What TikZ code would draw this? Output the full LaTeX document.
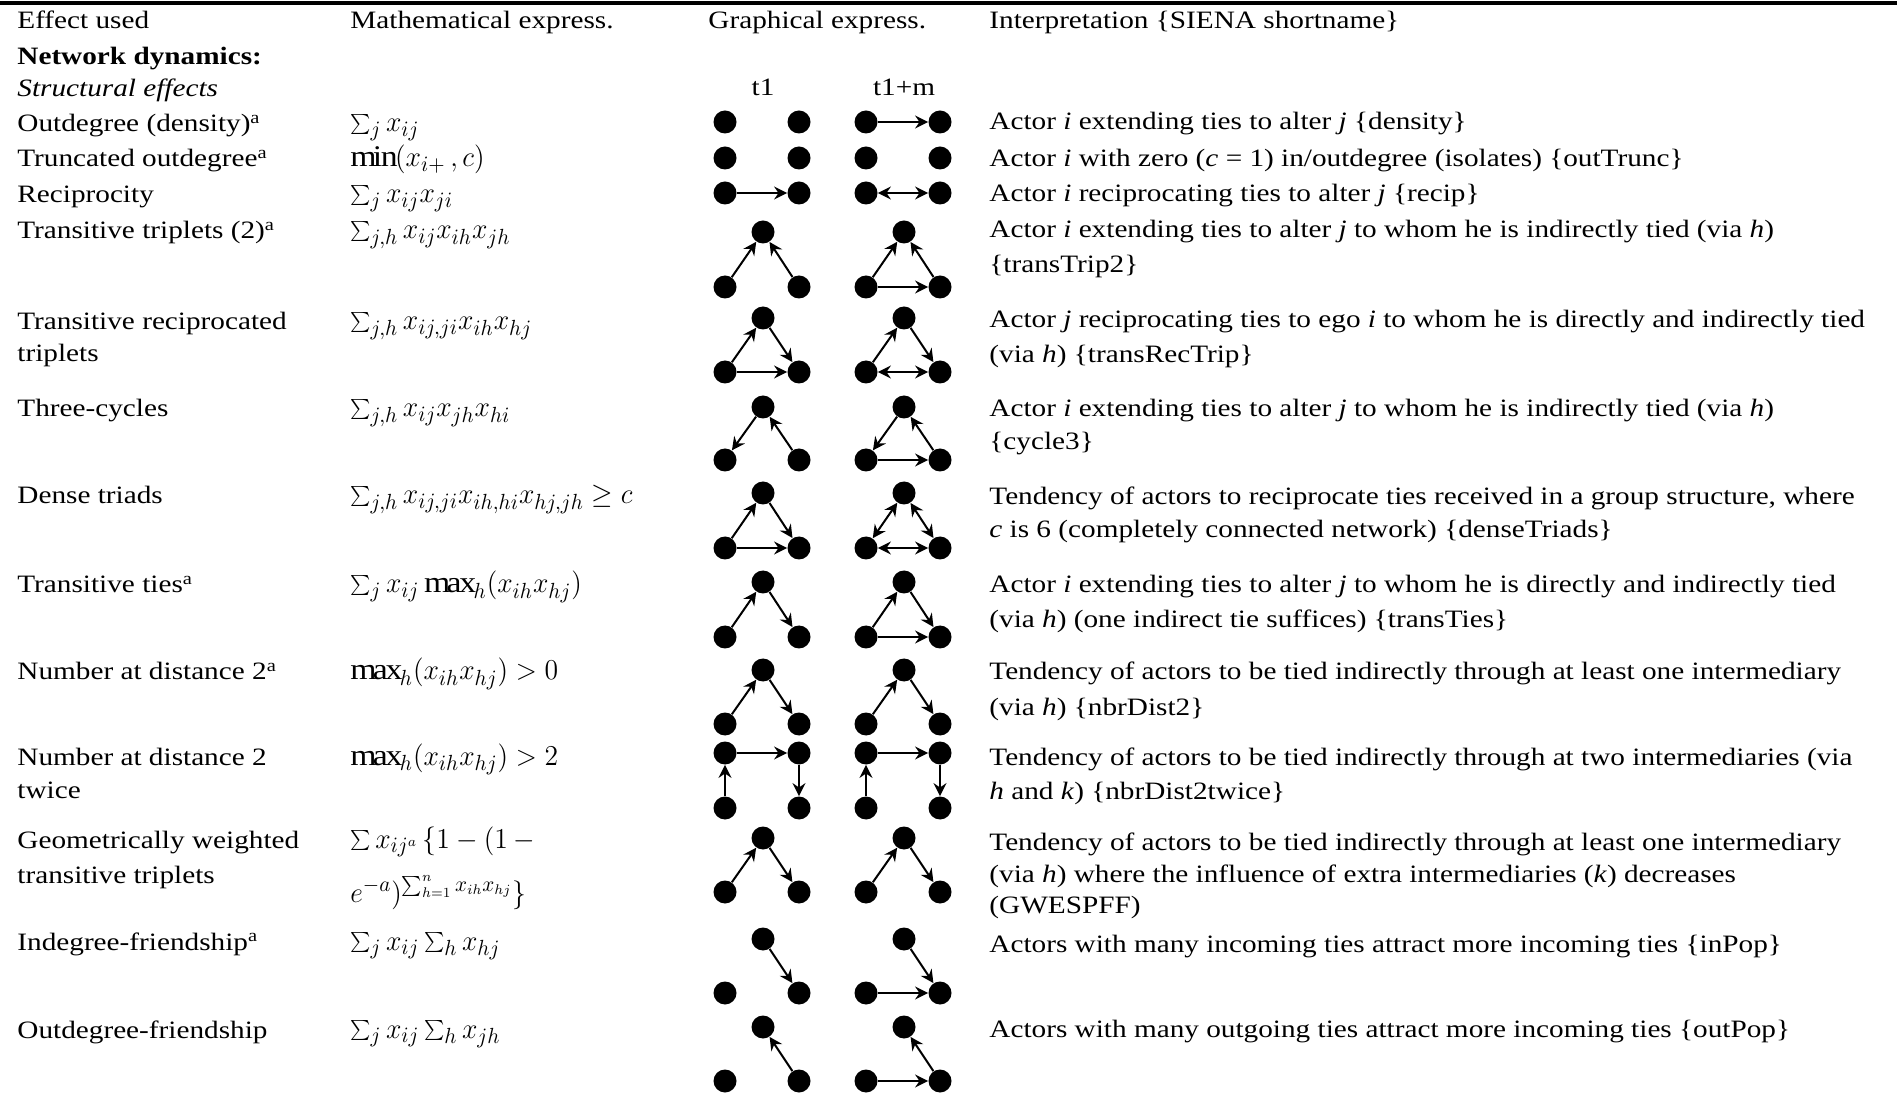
\documentclass[tikz,border=0pt]{standalone}
\usepackage{fontspec}
\setmainfont{Liberation Serif}[FakeStretch=1.17]
\usetikzlibrary{arrows.meta}
\newcommand{\mth}[1]{{\fontsize{15pt}{17pt}\selectfont\scalebox{0.96}[1]{$#1$}}}
\newcommand{\pairnodes}[2]{%
 \node[actor] (#1a) at (725,#2) {};
 \node[actor] (#1b) at (799,#2) {};
 \node[actor] (#1c) at (866,#2) {};
 \node[actor] (#1d) at (940,#2) {};}
\newcommand{\trinodes}[3]{%
 \node[actor] (#1Lt) at (763,#2) {};
 \node[actor] (#1La) at (725,#3) {};
 \node[actor] (#1Lb) at (799,#3) {};
 \node[actor] (#1Rt) at (904,#2) {};
 \node[actor] (#1Ra) at (866,#3) {};
 \node[actor] (#1Rb) at (940,#3) {};}
\tikzset{
 txt/.style={anchor=base west, inner sep=0pt, font=\fontsize{12.5pt}{14pt}\selectfont},
 ctxt/.style={anchor=base, inner sep=0pt, font=\fontsize{12.5pt}{14pt}\selectfont},
 actor/.style={circle, fill=black, minimum size=11.5pt, inner sep=0pt},
 tie/.style={line width=1pt, -{Stealth[length=6.5pt,width=6.5pt,inset=2.2pt]}},
 mutual/.style={line width=1pt, {Stealth[length=6.5pt,width=6.5pt,inset=2.2pt]}-{Stealth[length=6.5pt,width=6.5pt,inset=2.2pt]}},
 rule/.style={line width=2pt}
}
\begin{document}
\begin{tikzpicture}[x=0.5pt,y=-0.5pt]
\useasboundingbox (0,0) rectangle (1897,1096);
\coordinate (rl) at (0,3);
\coordinate (rr) at (1897,3);
\draw[rule] (rl) -- (rr);

% headers
\node[txt] (h1) at (17,29) {Effect used};
\node[txt] (h2) at (350,29) {Mathematical express.};
\node[txt] (h3) at (708,29) {Graphical express.};
\node[txt] (h4) at (989,29) {Interpretation \{SIENA shortname\}};
\node[txt] (e0) at (17,65) {\textbf{Network dynamics:}};
\node[txt] (e00) at (17,97) {\textit{Structural effects}};
\node[ctxt] (t1) at (763,96) {t1};
\node[ctxt] (t2) at (904,96) {t1+m};

% column 1
\node[txt] (e1) at (17,132) {Outdegree (density)\textsuperscript{a}};
\node[txt] (e2) at (17,167) {Truncated outdegree\textsuperscript{a}};
\node[txt] (e3) at (17,203) {Reciprocity};
\node[txt] (e4) at (17,239) {Transitive triplets (2)\textsuperscript{a}};
\node[txt] (e5) at (17,330) {Transitive reciprocated};
\node[txt] (e5b) at (17,362) {triplets};
\node[txt] (e6) at (17,417) {Three-cycles};
\node[txt] (e7) at (17,504) {Dense triads};
\node[txt] (e8) at (17,593) {Transitive ties\textsuperscript{a}};
\node[txt] (e9) at (17,680) {Number at distance 2\textsuperscript{a}};
\node[txt] (e10) at (17,765) {Number at distance 2};
\node[txt] (e10b) at (17,798) {twice};
\node[txt] (e11) at (17,848) {Geometrically weighted};
\node[txt] (e11b) at (17,883) {transitive triplets};
\node[txt] (e12) at (17,950) {Indegree-friendship\textsuperscript{a}};
\node[txt] (e13) at (17,1038) {Outdegree-friendship};

% column 2
\node[txt] (m1) at (350,132) {\mth{\sum_j x_{ij}}};
\node[txt] (m2) at (350,167) {\mth{\min(x_{i+}\,, c)}};
\node[txt] (m3) at (350,203) {\mth{\sum_j x_{ij}x_{ji}}};
\node[txt] (m4) at (350,239) {\mth{\sum_{j,h} x_{ij}x_{ih}x_{jh}}};
\node[txt] (m5) at (350,330) {\mth{\sum_{j,h} x_{ij,ji}x_{ih}x_{hj}}};
\node[txt] (m6) at (350,417) {\mth{\sum_{j,h} x_{ij}x_{jh}x_{hi}}};
\node[txt] (m7) at (350,504) {\mth{\sum_{j,h} x_{ij,ji}x_{ih,hi}x_{hj,jh} \geq c}};
\node[txt] (m8) at (350,593) {\mth{\sum_j x_{ij}\,\mathrm{max}_h\bigl(x_{ih}x_{hj}\bigr)}};
\node[txt] (m9) at (350,680) {\mth{\mathrm{max}_h\bigl(x_{ih}x_{hj}\bigr) > 0}};
\node[txt] (m10) at (350,765) {\mth{\mathrm{max}_h\bigl(x_{ih}x_{hj}\bigr) > 2}};
\node[txt] (m11) at (350,848) {\mth{\sum x_{ij^a}\,\{1-(1-{}}};
\node[txt] (m11b) at (350,902) {\mth{e^{-a})^{\sum_{h=1}^{n} x_{ih}x_{hj}}\}}};
\node[txt] (m12) at (350,950) {\mth{\sum_j x_{ij}\sum_h x_{hj}}};
\node[txt] (m13) at (350,1038) {\mth{\sum_j x_{ij}\sum_h x_{jh}}};

% column 4
\node[txt] (i1) at (989,130) {Actor \textit{i} extending ties to alter \textit{j} \{density\}};
\node[txt] (i2) at (989,167) {Actor \textit{i} with zero (\textit{c} = 1) in/outdegree (isolates) \{outTrunc\}};
\node[txt] (i3) at (989,202) {Actor \textit{i} reciprocating ties to alter \textit{j} \{recip\}};
\node[txt] (i4) at (989,238) {Actor \textit{i} extending ties to alter \textit{j} to whom he is indirectly tied (via \textit{h})};
\node[txt] (i4b) at (989,273) {\{transTrip2\}};
\node[txt] (i5) at (989,328) {Actor \textit{j} reciprocating ties to ego \textit{i} to whom he is directly and indirectly tied};
\node[txt] (i5b) at (989,363) {(via \textit{h}) \{transRecTrip\}};
\node[txt] (i6) at (989,417) {Actor \textit{i} extending ties to alter \textit{j} to whom he is indirectly tied (via \textit{h})};
\node[txt] (i6b) at (989,450) {\{cycle3\}};
\node[txt] (i7) at (989,505) {Tendency of actors to reciprocate ties received in a group structure, where};
\node[txt] (i7b) at (989,538) {\textit{c} is 6 (completely connected network) \{denseTriads\}};
\node[txt] (i8) at (989,593) {Actor \textit{i} extending ties to alter \textit{j} to whom he is directly and indirectly tied};
\node[txt] (i8b) at (989,627) {(via \textit{h}) (one indirect tie suffices) \{transTies\}};
\node[txt] (i9) at (989,680) {Tendency of actors to be tied indirectly through at least one intermediary};
\node[txt] (i9b) at (989,715) {(via \textit{h}) \{nbrDist2\}};
\node[txt] (i10) at (989,765) {Tendency of actors to be tied indirectly through at two intermediaries (via};
\node[txt] (i10b) at (989,799) {\textit{h} and \textit{k}) \{nbrDist2twice\}};
\node[txt] (i11) at (989,850) {Tendency of actors to be tied indirectly through at least one intermediary};
\node[txt] (i11b) at (989,882) {(via \textit{h}) where the influence of extra intermediaries (\textit{k}) decreases};
\node[txt] (i11c) at (989,913) {(GWESPFF)};
\node[txt] (i12) at (989,952) {Actors with many incoming ties attract more incoming ties \{inPop\}};
\node[txt] (i13) at (989,1037) {Actors with many outgoing ties attract more incoming ties \{outPop\}};

% graphs
\pairnodes{A}{122}
\draw[tie] (Ac) -- (Ad);
\pairnodes{B}{158}
\pairnodes{C}{193}
\draw[tie] (Ca) -- (Cb);
\draw[mutual] (Cc) -- (Cd);

\trinodes{D}{232}{287}
\draw[tie] (DLa) -- (DLt); \draw[tie] (DLb) -- (DLt);
\draw[tie] (DRa) -- (DRt); \draw[tie] (DRb) -- (DRt); \draw[tie] (DRa) -- (DRb);

\trinodes{E}{318}{372}
\draw[tie] (ELa) -- (ELt); \draw[tie] (ELt) -- (ELb); \draw[tie] (ELa) -- (ELb);
\draw[tie] (ERa) -- (ERt); \draw[tie] (ERt) -- (ERb); \draw[mutual] (ERa) -- (ERb);

\trinodes{F}{407}{460}
\draw[tie] (FLt) -- (FLa); \draw[tie] (FLb) -- (FLt);
\draw[tie] (FRt) -- (FRa); \draw[tie] (FRb) -- (FRt); \draw[tie] (FRa) -- (FRb);

\trinodes{G}{493}{548}
\draw[tie] (GLa) -- (GLt); \draw[tie] (GLt) -- (GLb); \draw[tie] (GLa) -- (GLb);
\draw[mutual] (GRt) -- (GRa); \draw[mutual] (GRt) -- (GRb); \draw[mutual] (GRa) -- (GRb);

\trinodes{H}{582}{637}
\draw[tie] (HLa) -- (HLt); \draw[tie] (HLt) -- (HLb);
\draw[tie] (HRa) -- (HRt); \draw[tie] (HRt) -- (HRb); \draw[tie] (HRa) -- (HRb);

\trinodes{I}{670}{724}
\draw[tie] (ILa) -- (ILt); \draw[tie] (ILt) -- (ILb);
\draw[tie] (IRa) -- (IRt); \draw[tie] (IRt) -- (IRb);

\pairnodes{Jt}{753}
\pairnodes{Jb}{808}
\draw[tie] (Jba) -- (Jta); \draw[tie] (Jta) -- (Jtb); \draw[tie] (Jtb) -- (Jbb);
\draw[tie] (Jbc) -- (Jtc); \draw[tie] (Jtc) -- (Jtd); \draw[tie] (Jtd) -- (Jbd);

\trinodes{K}{838}{892}
\draw[tie] (KLa) -- (KLt); \draw[tie] (KLt) -- (KLb);
\draw[tie] (KRa) -- (KRt); \draw[tie] (KRt) -- (KRb);

\trinodes{L}{939}{993}
\draw[tie] (LLt) -- (LLb);
\draw[tie] (LRt) -- (LRb); \draw[tie] (LRa) -- (LRb);

\trinodes{M}{1027}{1081}
\draw[tie] (MLb) -- (MLt);
\draw[tie] (MRb) -- (MRt); \draw[tie] (MRa) -- (MRb);
\end{tikzpicture}
\end{document}
